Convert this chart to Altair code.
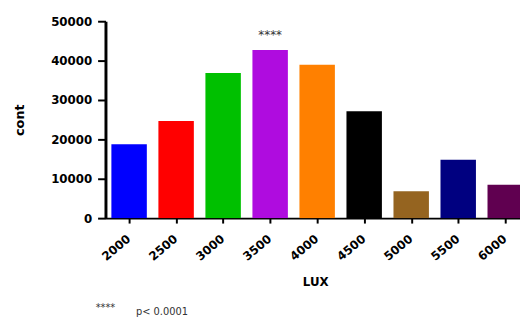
import altair as alt
import pandas as pd

lux = ["2000", "2500", "3000", "3500", "4000", "4500", "5000", "5500", "6000"]
counts = [18750, 24670, 36830, 42670, 38920, 27170, 6830, 14830, 8500]
colors = ["#0000FF", "#FF0000", "#00C000", "#AF0CDF", "#FF8000",
          "#000000", "#956420", "#000080", "#600050"]
y_ticks = [0, 10000, 20000, 30000, 40000, 50000]
sig_group = ["3500"]
sig_label = "****"
footnote_stars = ["****"]
footnote_text = ["p< 0.0001"]

df = pd.DataFrame({"LUX": lux, "cont": counts, "color": colors})
df["idx"] = range(len(lux))
df["sig"] = [sig_label if g in sig_group else "" for g in lux]

FONT = "DejaVu Sans"
W, H = 421, 200
label_expr = "[" + ",".join("'%s'" % v for v in lux) + "][datum.value]"

x_enc = alt.X(
    "idx:Q", title="LUX",
    scale=alt.Scale(domain=[-0.5026, 8.3141], nice=False, zero=False, padding=0),
    axis=alt.Axis(
        values=list(range(len(lux))), labelExpr=label_expr, grid=False,
        labelAngle=-40, labelAlign="right", labelBaseline="top",
        labelFlush=False, labelOverlap=False, labelOffset=-4,
        labelFont=FONT, labelFontWeight="bold", labelFontSize=12,
        labelColor="black", labelPadding=10,
        tickColor="black", tickWidth=2, tickSize=5,
        domainColor="black", domainWidth=2,
        titleFont=FONT, titleFontWeight="bold", titleFontSize=12,
        titleColor="black", titleX=213, titleY=64,
        titleAlign="center", titleBaseline="middle",
    ),
)
y_enc = alt.Y(
    "cont:Q", title="cont",
    scale=alt.Scale(domain=[0, 50000], nice=False, zero=True, padding=0),
    axis=alt.Axis(
        values=y_ticks, grid=False, format="d", labelOverlap=False,
        labelFont=FONT, labelFontWeight="bold", labelFontSize=12,
        labelColor="black", labelPadding=6,
        tickColor="black", tickWidth=2, tickSize=8,
        domainColor="black", domainWidth=3,
        titleFont=FONT, titleFontWeight="bold", titleFontSize=13,
        titleColor="black", titleX=-87, titleY=100, titleAngle=270,
        titleAlign="center", titleBaseline="middle",
    ),
)

base = alt.Chart(df).encode(x=x_enc, y=y_enc)

bars = base.mark_bar(size=36, clip=True).encode(
    color=alt.Color("color:N", scale=None)
)

stars = base.mark_text(
    font=FONT, fontSize=12, color="#333333", dy=-8, baseline="bottom"
).encode(text="sig:N")

fn_stars = alt.Chart(pd.DataFrame({"t": footnote_stars})).mark_text(
    font=FONT, fontSize=10, color="#333333", align="left", baseline="middle"
).encode(x=alt.value(-10), y=alt.value(291), text="t:N")

fn_text = alt.Chart(pd.DataFrame({"t": footnote_text})).mark_text(
    font=FONT, fontSize=10, color="#333333", align="left", baseline="alphabetic"
).encode(x=alt.value(31), y=alt.value(298), text="t:N")

chart = alt.layer(bars, stars, fn_stars, fn_text).properties(
    width=W, height=H,
    autosize=alt.AutoSizeParams(type="none"),
    padding={"left": 99, "top": 11, "right": 0, "bottom": 100},
).configure_view(stroke=None)

chart.save("out.html", embed_options={"renderer": "svg", "actions": False})
